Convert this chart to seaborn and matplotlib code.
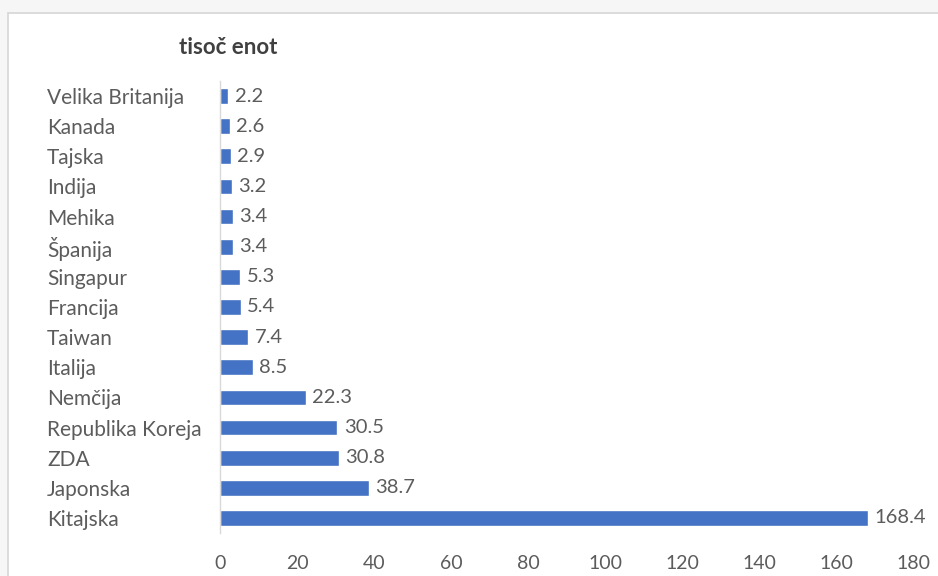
import matplotlib
matplotlib.use("Agg")
import matplotlib.pyplot as plt
from matplotlib.patches import Rectangle
import seaborn as sns
import pandas as pd

countries = ["Velika Britanija", "Kanada", "Tajska", "Indija", "Mehika", "Španija",
             "Singapur", "Francija", "Taiwan", "Italija", "Nemčija",
             "Republika Koreja", "ZDA", "Japonska", "Kitajska"]
values = [2.2, 2.6, 2.9, 3.2, 3.4, 3.4, 5.3, 5.4, 7.4, 8.5, 22.3, 30.5, 30.8, 38.7, 168.4]
x_ticks = [0, 20, 40, 60, 80, 100, 120, 140, 160, 180]
title = "tisoč enot"

df = pd.DataFrame({"država": countries, "vrednost": values})

sns.set_theme(style="white")
plt.rcParams["font.family"] = ["Lato", "DejaVu Sans"]

W, H = 938, 576
fig = plt.figure(figsize=(W / 100, H / 100), dpi=100)
fig.patch.set_facecolor("#f6f6f6")
# chart frame, drawn beneath the axes
fig.patches.append(Rectangle((8 / W, -0.1), 1.2, 1.1 - 13 / H, transform=fig.transFigure,
                             facecolor="white", edgecolor="#d6d6d6", lw=1.2, zorder=-10))

ax = fig.add_axes([220 / W, 1 - 533 / H, (913 - 220) / W, (533 - 81) / H])
ax.set_facecolor("none")

bar_color = "#4472C4"
sns.barplot(data=df, y="država", x="vrednost", orient="h", color=bar_color,
            width=0.52, saturation=1, ax=ax)

text_color = "#5c5c5c"
for cont in ax.containers:
    ax.bar_label(cont, labels=[f"{v:.1f}" for v in values], padding=4.5,
                 fontsize=14.5, color=text_color)

ax.set_xlim(0, 180)
ax.set_ylim(14.5, -0.5)
ax.set_xticks(x_ticks)
ax.set_xticklabels([str(t) for t in x_ticks])
ax.set_xlabel("")
ax.set_ylabel("")

for s in ["top", "right", "bottom"]:
    ax.spines[s].set_visible(False)
ax.spines["left"].set_color("#d9d9d9")
ax.spines["left"].set_linewidth(1.0)

ax.tick_params(axis="x", length=0, pad=16, labelsize=14, labelcolor=text_color)
ax.tick_params(axis="y", length=0, pad=(220 - 47) * 0.72, labelsize=15, labelcolor=text_color)
for lbl in ax.get_yticklabels():
    lbl.set_horizontalalignment("left")

fig.text(228 / W, 1 - 47 / H, title, ha="center", va="center", fontsize=16,
         fontweight="bold", color="#404040")

fig.savefig("out.png", dpi=100)
